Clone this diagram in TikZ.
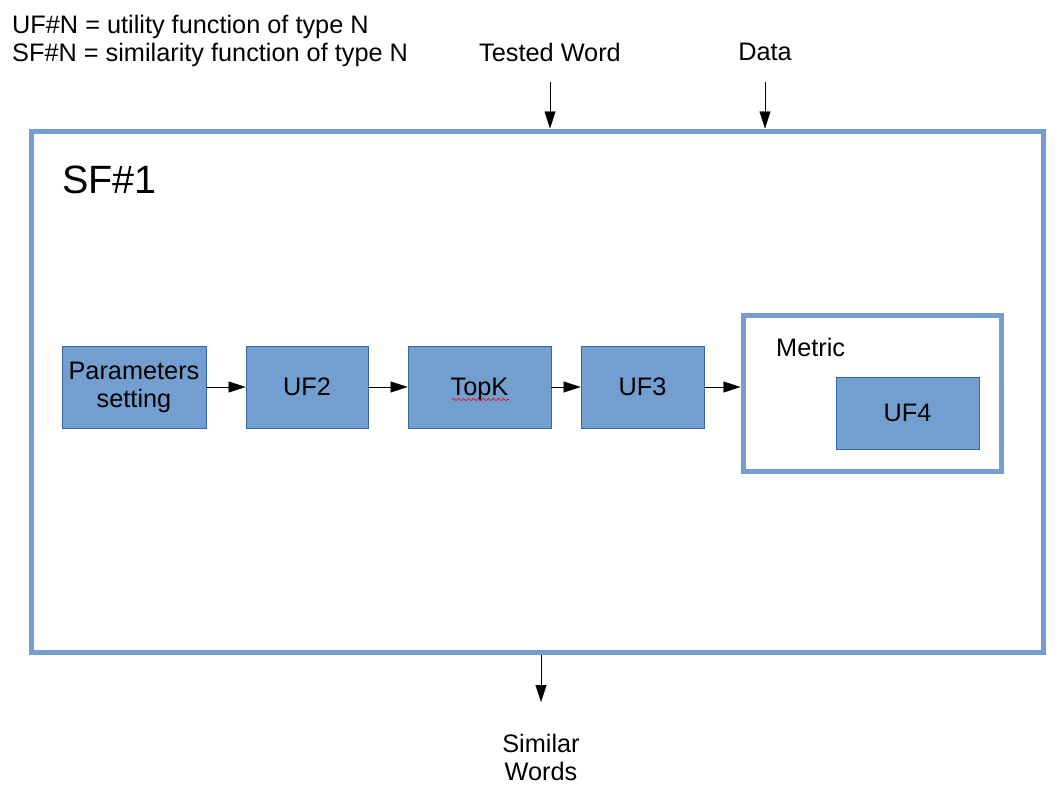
\documentclass[tikz,border=0pt]{standalone}
\usepackage{fontspec}
\setmainfont{Liberation Sans}
\usetikzlibrary{arrows.meta,decorations.pathmorphing}
\definecolor{boxblue}{HTML}{729FCF}
\definecolor{edgeblue}{HTML}{3465A4}

\begin{document}
\begin{tikzpicture}[x=1pt,y=-1pt,>={Triangle[length=17pt,width=11pt]},font=\fontsize{25.3}{28}\selectfont]
  \tikzstyle{frame}=[draw=boxblue,line width=5pt,inner sep=0pt]
  \tikzstyle{uf}=[draw=edgeblue,line width=0.8pt,fill=boxblue,minimum height=82pt,inner sep=0pt,align=center]
  \tikzstyle{annot}=[inner sep=0pt,align=center]
  \useasboundingbox (0,0) rectangle (1059,800);

  % legend
  \node[annot,anchor=west] (leg1) at (12,27) {UF\#N = utility function of type N};
  \node[annot,anchor=west] (leg2) at (12,55) {SF\#N = similarity function of type N};

  % outer frame
  \node[frame,minimum width=1012pt,minimum height=521pt] (sf) at (537,391.5) {};
  \node[annot,anchor=west,font=\fontsize{39.5}{44}\selectfont] (sf-title) at (62,180) {SF\#1};

  % inputs / output
  \node[annot] (tw) at (550,52) {Tested Word};
  \node[annot] (data) at (765,52) {Data};
  \node[annot] (sw) at (541,757) {Similar\\Words};
  \coordinate (tw-in) at (550,82);
  \coordinate (data-in) at (765,82);
  \coordinate (sw-in) at (541,702);

  % chain
  \node[uf,minimum width=144pt] (param) at (134,387) {Parameters\\setting};
  \node[uf,minimum width=122pt] (uf2) at (307,387) {UF2};
  \node[uf,minimum width=143pt,text depth=0pt] (topk) at (479.5,387) {TopK};
  \node[uf,minimum width=123pt] (uf3) at (642.5,387) {UF3};

  % metric
  \node[frame,minimum width=258pt,minimum height=156pt] (metric) at (872,393) {};
  \node[annot,anchor=west] (metric-title) at (776,347) {Metric};
  \node[uf,minimum width=143pt,minimum height=72pt] (uf4) at (907.5,413) {UF4};

  \draw[red,line width=0.6pt,decorate,decoration={snake,amplitude=1.2pt,segment length=5pt}] (452,399.5) -- (509,399.5);

  \draw[->] (tw-in) -- (tw-in |- sf.north);
  \draw[->] (data-in) -- (data-in |- sf.north);
  \draw[->] (sw-in |- sf.south) -- (sw-in);

  \path (param) edge[->] (uf2);
  \path (uf2) edge[->] (topk);
  \path (topk) edge[->] (uf3);
  \draw[->] (uf3.east) -- (uf3.east -| metric.west);

\end{tikzpicture}
\end{document}
